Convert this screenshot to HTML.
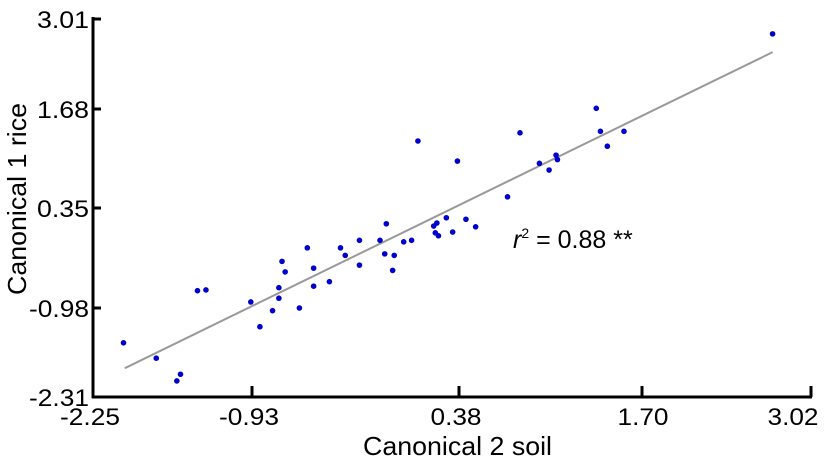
<!DOCTYPE html>
<html><head><meta charset="utf-8"><style>
body{margin:0;background:#fff}
svg text{font-family:"Liberation Sans",Arial,sans-serif;fill:#000}
</style></head><body>
<svg id="chart" width="826" height="467" viewBox="0 0 826 467"></svg>
<script>
const xTickLabels=["-2.25","-0.93","0.38","1.70","3.02"];
const yTickLabels=["3.01","1.68","0.35","-0.98","-2.31"];
const xValues=[-1.99,-1.72,-1.55,-1.52,-1.38,-1.31,-0.94,-0.88,-0.80,-0.76,-0.76,-0.74,-0.72,-0.63,-0.58,-0.54,-0.54,-0.44,-0.37,-0.34,-0.25,-0.25,-0.12,-0.08,-0.09,-0.03,-0.04,0.03,0.08,0.12,0.22,0.24,0.23,0.25,0.30,0.34,0.37,0.43,0.50,0.73,0.82,0.96,1.03,1.08,1.09,1.37,1.40,1.45,1.57,2.72];
const yValues=[-1.50,-1.73,-2.07,-1.97,-0.75,-0.74,-0.90,-1.26,-1.02,-0.85,-0.71,-0.36,-0.50,-0.98,-0.18,-0.45,-0.69,-0.63,-0.18,-0.28,-0.08,-0.41,-0.08,0.14,-0.26,-0.28,-0.48,-0.10,-0.08,1.25,0.11,0.15,0.02,-0.02,0.22,0.03,0.98,0.20,0.10,0.50,1.36,0.95,0.86,1.06,1.00,1.69,1.38,1.18,1.38,2.79];
const fitX=[-1.98,2.72];
const fitY=[-1.88,2.52];

const svg=document.getElementById('chart');
const NS='http://www.w3.org/2000/svg';
const xTickPx=[92,252,459,642,811];
const yTickPx=[19,109,208,308,397];
function interp(v,vals,px){
  for(let i=0;i<vals.length-1;i++){
    const a=vals[i],b=vals[i+1];
    const lo=Math.min(a,b),hi=Math.max(a,b);
    if((v>=lo&&v<=hi)||(i===0&&(a<b?v<a:v>a))||(i===vals.length-2)){
      return px[i]+(v-a)/(b-a)*(px[i+1]-px[i]);
    }
  }
}
const xs=v=>interp(v,xTickLabels.map(Number),xTickPx);
const ys=v=>interp(v,yTickLabels.map(Number),yTickPx);
function mk(tag,attrs,txt){const e=document.createElementNS(NS,tag);for(const k in attrs)e.setAttribute(k,attrs[k]);if(txt!==undefined)e.textContent=txt;svg.appendChild(e);return e;}

const fl=mk('line',{x1:xs(fitX[0]),y1:ys(fitY[0]),x2:xs(fitX[1]),y2:ys(fitY[1]),stroke:'#999',"stroke-width":2});



for(let i=0;i<xValues.length;i++){
  const c=mk('circle',{cx:xs(xValues[i]),cy:ys(yValues[i]),r:2.8,fill:'#0000cc'});
  
  
}

const ya=mk('line',{x1:93,y1:17,x2:93,y2:398,stroke:'#000',"stroke-width":3});


const xa=mk('line',{x1:92,y1:397,x2:812,y2:397,stroke:'#000',"stroke-width":3});



yTickLabels.forEach((l,i)=>{
  const y=ys(Number(l));
  if(i<4){const t=mk('line',{x1:93,y1:y,x2:101,y2:y,stroke:'#000',"stroke-width":3});
  
  }
  const w=l.length>4?60:52;
  const tx=mk('text',{x:89-w,y:y+9,"font-size":24,textLength:w,lengthAdjust:"spacingAndGlyphs"},l);
  
  
});
const xLabelCenters=[90,249,456,643,793];
xTickLabels.forEach((l,i)=>{
  const x=xs(Number(l));
  if(i>0){const t=mk('line',{x1:x,y1:397,x2:x,y2:386,stroke:'#000',"stroke-width":3});
  
  }
  const w=l.length>4?60:51;
  const tx=mk('text',{x:xLabelCenters[i]-w/2,y:425,"font-size":24,textLength:w,lengthAdjust:"spacingAndGlyphs"},l);
  
  
});
</script>
<script>
(function(){
const svg=document.getElementById('chart');const NS='http://www.w3.org/2000/svg';
let t=document.createElementNS(NS,'text');
t.setAttribute('x',363);t.setAttribute('y',455);t.setAttribute('font-size',26);
t.setAttribute('textLength',189);t.setAttribute('lengthAdjust','spacingAndGlyphs');
t.textContent='Canonical 2 soil';


svg.appendChild(t);
t=document.createElementNS(NS,'text');
t.setAttribute('transform','translate(26,295) rotate(-90)');t.setAttribute('font-size',26);
t.setAttribute('textLength',192);t.setAttribute('lengthAdjust','spacingAndGlyphs');
t.textContent='Canonical 1 rice';


svg.appendChild(t);
t=document.createElementNS(NS,'text');
t.setAttribute('x',513);t.setAttribute('y',248);t.setAttribute('font-size',25);
t.innerHTML='<tspan font-style="italic">r</tspan><tspan font-size="14" dy="-10">2</tspan><tspan dy="10"> = 0.88 **</tspan>';


svg.appendChild(t);
})();
</script>
</body></html>
